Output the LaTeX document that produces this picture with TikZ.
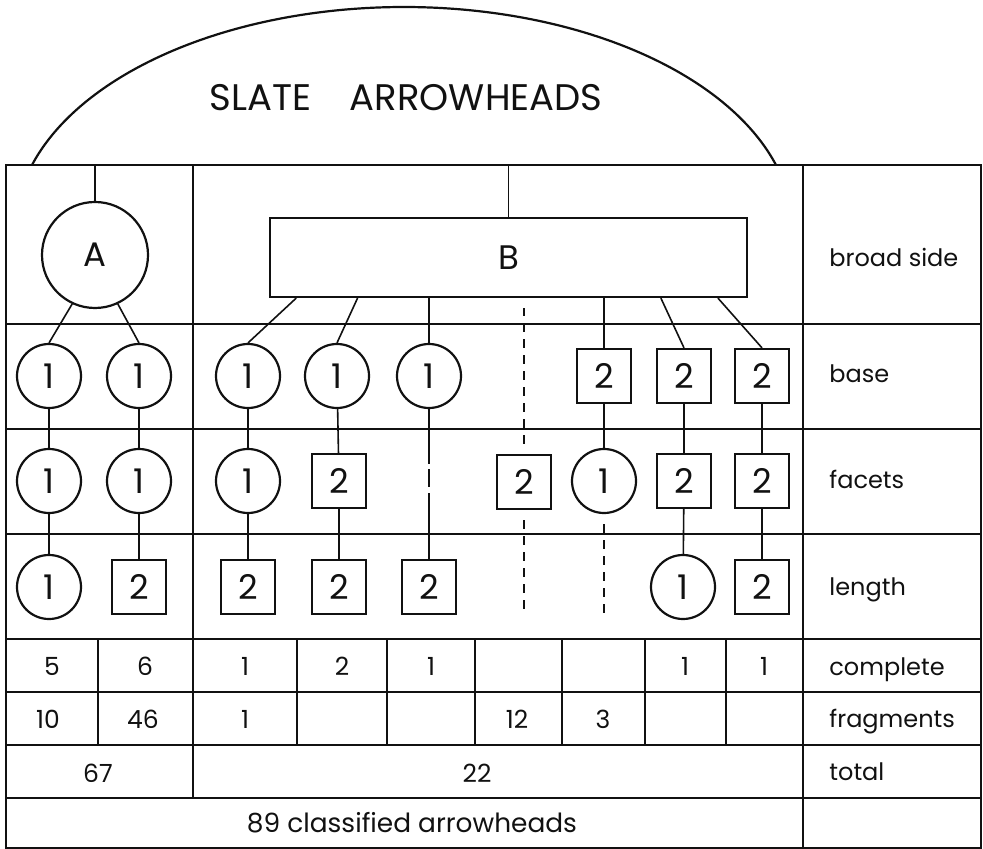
\documentclass[tikz,border=0pt]{standalone}
\usepackage{fontspec}
\setmainfont{Poppins}
\usetikzlibrary{calc}
\definecolor{saInk}{HTML}{111111}
\tikzset{
    saNodeBase/.style={
        draw=saInk,
        line width=1.1pt,
        inner sep=0pt,
        text=saInk,
        font=\fontsize{17}{17}\selectfont
    },
    % Node shapes
    saRound/.style={saNodeBase, circle, minimum size=32pt},
    saSquare/.style={saNodeBase, rectangle, minimum size=27pt},
    saBig/.style={saNodeBase, circle, minimum size=53pt},
    saWide/.style={saNodeBase, rectangle, minimum width=238.5pt, minimum height=39.5pt},
    % Lines
    saGrid/.style={draw=saInk, line width=0.8pt},
    saLink/.style={draw=saInk, line width=0.8pt},
    saBroken/.style={saLink, dash pattern=on 4.5pt off 3.5pt, shorten <=5pt},
    % Texts
    saTitle/.style={anchor=base, text=saInk, inner sep=0pt, font=\fontsize{18.5}{18.5}\selectfont},
    saRowLabel/.style={anchor=base west, text=saInk, inner sep=0pt, font=\fontsize{12}{12}\selectfont},
    saCount/.style={anchor=base, text=saInk, inner sep=0pt, font=\fontsize{12.5}{12.5}\selectfont}
}

\begin{document}
\begin{tikzpicture}[x=0.5pt, y=-0.5pt]
\useasboundingbox (0,0) rectangle (983,849);

% table frame
\draw[saGrid] (6,165) rectangle (981,848);
\draw[saGrid] (6,324) -- (981,324);
\draw[saGrid] (6,429) -- (981,429);
\draw[saGrid] (6,534) -- (981,534);
\draw[saGrid] (6,639) -- (981,639);
\draw[saGrid] (6,692) -- (981,692);
\draw[saGrid] (6,745) -- (981,745);
\draw[saGrid] (6,798) -- (981,798);
\draw[saGrid] (193,165) -- (193,798);
\draw[saGrid] (803,165) -- (803,848);
\draw[saGrid] (98,639) -- (98,745);
\draw[saGrid] (297,639) -- (297,745);
\draw[saGrid] (387,639) -- (387,745);
\draw[saGrid] (475,639) -- (475,745);
\draw[saGrid] (562,639) -- (562,745);
\draw[saGrid] (645,639) -- (645,745);
\draw[saGrid] (726,639) -- (726,745);

% heading dome
\coordinate (rim) at (0,165);
\draw[saInk, line width=1.1pt] plot[domain=-163.05:-16.95, samples=90, smooth] ({404+388.9*cos(\x)}, {230+223*sin(\x)});
\node[saTitle] (title) at (406,111) {SLATE\hspace{1.05em}ARROWHEADS};

% broad side
\node[saBig] (a) at (95,255) {A};
\node[saWide] (b) at (508.5,257.5) {B};

% base
\node[saRound] (ba1) at (49,376) {1};
\node[saRound] (ba2) at (139,376) {1};
\node[saRound] (ba3) at (248,376) {1};
\node[saRound] (ba4) at (337,376) {1};
\node[saRound] (ba5) at (429,376) {1};
\node[saSquare] (ba7) at (604,376) {2};
\node[saSquare] (ba8) at (684,376) {2};
\node[saSquare] (ba9) at (762,376) {2};

% facets
\node[saRound] (fa1) at (49,481) {1};
\node[saRound] (fa2) at (139,481) {1};
\node[saRound] (fa3) at (248,481) {1};
\node[saSquare] (fa4) at (339,481) {2};
\node[saSquare] (fa6) at (524,482) {2};
\node[saRound] (fa7) at (604,481) {1};
\node[saSquare] (fa8) at (684,481) {2};
\node[saSquare] (fa9) at (762,481) {2};

% length
\node[saRound] (le1) at (49,587) {1};
\node[saSquare] (le2) at (139,587) {2};
\node[saSquare] (le3) at (248,587) {2};
\node[saSquare] (le4) at (339,587) {2};
\node[saSquare] (le5) at (429,587) {2};
\node[saRound] (le8) at (683,587) {1};
\node[saSquare] (le9) at (762,587) {2};
\coordinate (end6) at (524,615);
\coordinate (end7) at (604,615);

% tree links
\draw[saLink] (a.north) -- (a.north |- rim);
\draw[saLink] (b.north) -- (b.north |- rim);
\draw[saLink] (a.245) -- (ba1.north);
\draw[saLink] (a.295) -- (ba2.north);
\draw[saLink] ($(b.south west)!0.057!(b.south east)$) -- (ba3.north);
\draw[saLink] ($(b.south west)!0.185!(b.south east)$) -- (ba4.north);
\draw[saLink] (ba5.north |- b.south) -- (ba5.north);
\draw[saLink] (ba7.north |- b.south) -- (ba7.north);
\draw[saLink] ($(b.south west)!0.818!(b.south east)$) -- (ba8.north);
\draw[saLink] ($(b.south west)!0.937!(b.south east)$) -- (ba9.north);
\draw[saBroken, shorten >=5pt] (fa6.north) -- (fa6.north |- b.south);

\draw[saLink] (ba1) -- (fa1);
\draw[saLink] (fa1) -- (le1);
\draw[saLink] (ba2) -- (fa2);
\draw[saLink] (fa2) -- (le2);
\draw[saLink] (ba3) -- (fa3);
\draw[saLink] (fa3) -- (le3);
\draw[saLink] (ba4) -- (fa4);
\draw[saLink] (fa4) -- (le4);
\draw[saLink, dash pattern=on 27.5pt off 2.5pt on 9pt off 3pt on 60pt] (ba5.south) -- (le5.north);
\draw[saLink] (ba7) -- (fa7);
\draw[saLink] (ba8) -- (fa8);
\draw[saLink] (fa8) -- (le8);
\draw[saLink] (ba9) -- (fa9);
\draw[saLink] (fa9) -- (le9);
\draw[saBroken] (fa6.south) -- (end6);
\draw[saBroken] (fa7.south) -- (end7);

% row labels
\node[saRowLabel] (lbroad) at (829,267) {broad side};
\node[saRowLabel] (lbase) at (829,383) {base};
\node[saRowLabel] (lfacets) at (829,488) {facets};
\node[saRowLabel] (llength) at (829,595) {length};
\node[saRowLabel] (lcomplete) at (829,675) {complete};
\node[saRowLabel] (lfragments) at (829,727) {fragments};
\node[saRowLabel] (ltotal) at (829,780) {total};

% counts
\node[saCount] (c1) at (52,675) {5};
\node[saCount] (c2) at (145,675) {6};
\node[saCount] (c3) at (245,675) {1};
\node[saCount] (c4) at (342,675) {2};
\node[saCount] (c5) at (431,675) {1};
\node[saCount] (c8) at (685,675) {1};
\node[saCount] (c9) at (764,675) {1};
\node[saCount] (f1) at (48,728) {10};
\node[saCount] (f2) at (143,728) {46};
\node[saCount] (f3) at (245,728) {1};
\node[saCount] (f6) at (517,728) {12};
\node[saCount] (f7) at (603,728) {3};
\node[saCount] (tA) at (98,782) {67};
\node[saCount] (tB) at (477,782) {22};
\node[saRowLabel, anchor=base, font=\fontsize{13.2}{13.2}\selectfont] (grand) at (412,832) {89 classified arrowheads};
\end{tikzpicture}
\end{document}
